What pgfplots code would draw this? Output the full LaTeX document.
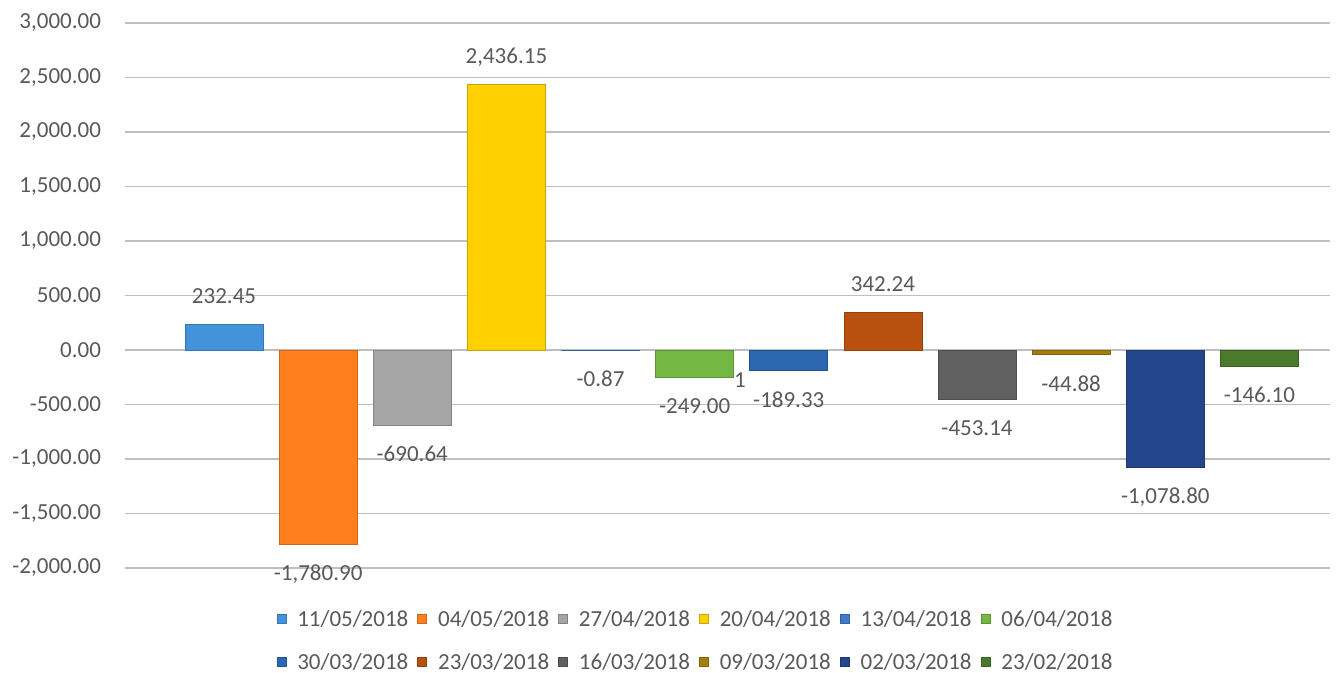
\documentclass[border=0pt]{standalone}
\usepackage{pgfplots}
\pgfplotsset{compat=1.18}
\usepackage{fontspec}
\setmainfont{Carlito}
\definecolor{txt}{HTML}{595959}
\definecolor{grid}{HTML}{D9D9D9}
\definecolor{c1}{HTML}{4393DA}
\definecolor{c2}{HTML}{FF7F1E}
\definecolor{c3}{HTML}{A5A5A5}
\definecolor{c4}{HTML}{FFD000}
\definecolor{c5}{HTML}{3E7BC8}
\definecolor{c6}{HTML}{74B844}
\definecolor{c7}{HTML}{2C68B0}
\definecolor{c8}{HTML}{B8500F}
\definecolor{c9}{HTML}{606060}
\definecolor{c10}{HTML}{A67C0A}
\definecolor{c11}{HTML}{24478C}
\definecolor{c12}{HTML}{4A7A2C}
\begin{document}
\fontsize{11.5}{14}\selectfont
\begin{tikzpicture}
\begin{axis}[
  scale only axis,
  width=602.5pt, height=272.5pt,
  xmin=-0.052, xmax=12.75,
  ymin=-2000, ymax=3000,
  ytick={-2000,-1500,...,3000},
  xtick=\empty,
  axis line style={draw=none},
  major tick length=0pt,
  ymajorgrids, grid style={grid, line width=0.75pt},
  scaled y ticks=false,
  yticklabel style={/pgf/number format/fixed, /pgf/number format/fixed zerofill, /pgf/number format/precision=2, /pgf/number format/1000 sep={,}, /pgf/number format/assume math mode=true, text=txt, xshift=-8pt, font=\fontsize{11.5}{14}\selectfont},
  ybar, bar width=39pt, bar shift=0pt,
  nodes near coords={\pgfmathprintnumber[fixed,fixed zerofill,precision=2,1000 sep={,},assume math mode=true]{\pgfplotspointmeta}},
  nodes near coords align=vertical,
  every node near coord/.append style={text=txt, font=\fontsize{11.5}{14}\selectfont, inner xsep=0pt, inner ysep=10.5pt, text height=7.5pt, text depth=0pt},
  legend columns=6,
  legend image code/.code={\fill[#1] (0pt,-1.5pt) rectangle (4.5pt,3pt);},
  legend style={draw=none, fill=none, at={(0.4726,-0.1349)}, anchor=center,
    font=\fontsize{11.5}{14}\selectfont, text=txt,
    nodes={inner xsep=0pt, inner ysep=2pt, text height=8.5pt, text depth=2.5pt},
    column sep=5.5pt, row sep=6.5pt,
    /tikz/every even column/.append style={column sep=4.5pt}},
]
\addplot[fill=c1, draw=c1!80!black] coordinates {(1,232.45)};
\addlegendentry{11/05/2018}
\addplot[fill=c2, draw=c2!80!black] coordinates {(2,-1780.90)};
\addlegendentry{04/05/2018}
\addplot[fill=c3, draw=c3!80!black] coordinates {(3,-690.64)};
\addlegendentry{27/04/2018}
\addplot[fill=c4, draw=c4!80!black] coordinates {(4,2436.15)};
\addlegendentry{20/04/2018}
\addplot[fill=c5, draw=c5!80!black] coordinates {(5,-0.87)};
\addlegendentry{13/04/2018}
\addplot[fill=c6, draw=c6!80!black] coordinates {(6,-249.00)};
\addlegendentry{06/04/2018}
\addplot[fill=c7, draw=c7!80!black] coordinates {(7,-189.33)};
\addlegendentry{30/03/2018}
\addplot[fill=c8, draw=c8!80!black] coordinates {(8,342.24)};
\addlegendentry{23/03/2018}
\addplot[fill=c9, draw=c9!80!black] coordinates {(9,-453.14)};
\addlegendentry{16/03/2018}
\addplot[fill=c10, draw=c10!80!black] coordinates {(10,-44.88)};
\addlegendentry{09/03/2018}
\addplot[fill=c11, draw=c11!80!black] coordinates {(11,-1078.80)};
\addlegendentry{02/03/2018}
\addplot[fill=c12, draw=c12!80!black] coordinates {(12,-146.10)};
\addlegendentry{23/02/2018}
\node[text=txt, font=\fontsize{11.5}{14}\selectfont] at (axis cs:6.48,-275) {1};
\end{axis}
\pgfresetboundingbox
\path[use as bounding box] ([xshift=-62.5pt,yshift=-52.5pt]current axis.south west) rectangle ([xshift=6.5pt,yshift=11.5pt]current axis.north east);
\end{tikzpicture}
\end{document}
